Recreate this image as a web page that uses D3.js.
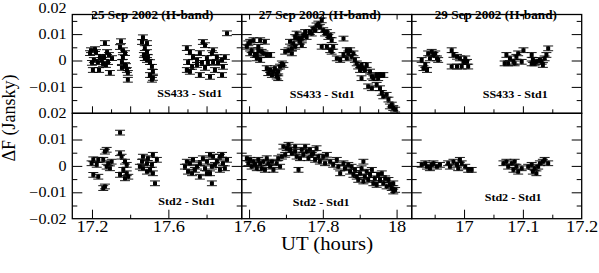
<!DOCTYPE html>
<html>
<head>
<meta charset="utf-8">
<script src="https://cdn.jsdelivr.net/npm/d3@7"></script>
<style>
  body { margin: 0; background: #fff; }
  svg { display: block; font-family: "Liberation Serif", "Times New Roman", serif; }
</style>
</head>
<body>
<svg id="chart" width="599" height="273"></svg>
<script>
// [UT hours, delta F (Jy)]
const sep25Ss433 = [
  [17.195,0.0039],[17.216,0.0043],[17.190,0.0028],[17.221,0.0032],[17.210,0.0002],[17.231,-0.0006],
  [17.200,-0.0009],[17.205,-0.0036],[17.237,-0.0036],[17.242,0.0013],
  [17.268,0.0066],[17.279,0.0032],[17.263,0.0013],[17.284,-0.0006],[17.258,-0.0013],[17.273,-0.0017],
  [17.294,-0.0047],[17.305,0.0009],[17.289,0.0021],[17.252,0.0002],
  [17.352,0.0073],[17.347,0.0051],[17.362,0.0039],[17.373,0.0028],[17.362,0.0013],[17.357,-0.0006],
  [17.373,-0.0017],[17.357,-0.0028],[17.383,-0.0036],[17.388,-0.0047],[17.388,-0.0073],[17.378,-0.0021],
  [17.467,0.0088],[17.462,0.0070],[17.488,0.0066],[17.477,0.0047],[17.488,0.0032],[17.472,0.0021],
  [17.493,0.0013],[17.488,0.0002],[17.504,-0.0006],[17.514,-0.0024],[17.519,-0.0043],[17.504,-0.0055],
  [17.519,-0.0066],[17.514,-0.0073],[17.477,0.0009],
  [17.697,0.0047],[17.713,0.0032],[17.729,0.0013],[17.703,-0.0006],[17.724,-0.0024],[17.697,-0.0036],
  [17.713,-0.0043],[17.781,0.0070],[17.792,0.0058],[17.765,0.0028],[17.802,0.0009],[17.776,-0.0009],
  [17.750,-0.0017],[17.792,-0.0028],[17.765,-0.0055],[17.834,0.0039],[17.828,0.0028],[17.854,0.0013],
  [17.834,-0.0006],[17.860,-0.0009],[17.881,0.0002],[17.886,-0.0024],[17.844,-0.0036],[17.881,-0.0055],
  [17.907,0.0103],[17.896,0.0013],[17.818,-0.0062],[17.750,0.0002],[17.807,-0.0009]
];
const sep25Std2 = [
  [17.207,0.0025],[17.233,0.0023],[17.198,0.0010],[17.225,0.0004],[17.207,-0.0034],[17.233,-0.0041],
  [17.277,0.0061],[17.268,0.0054],[17.259,0.0023],[17.285,0.0010],[17.277,-0.0003],[17.294,-0.0009],
  [17.268,-0.0078],[17.259,-0.0084],[17.347,0.0126],[17.347,0.0048],[17.355,0.0035],[17.373,0.0016],
  [17.382,0.0004],[17.364,-0.0015],[17.382,-0.0028],[17.347,-0.0034],[17.373,-0.0047],[17.390,-0.0041],
  [17.303,0.0016],
  [17.467,0.0035],[17.493,0.0029],[17.519,0.0042],[17.462,0.0016],[17.488,0.0010],[17.514,0.0004],
  [17.467,-0.0009],[17.504,-0.0015],[17.519,-0.0028],[17.488,-0.0022],[17.530,-0.0066],[17.451,-0.0003],
  [17.540,0.0023],
  [17.697,0.0016],[17.713,0.0010],[17.729,0.0023],[17.703,-0.0022],[17.724,-0.0028],[17.765,-0.0041],
  [17.765,0.0010],[17.781,0.0029],[17.802,0.0016],[17.792,-0.0009],[17.750,-0.0003],[17.818,0.0042],
  [17.834,0.0035],[17.828,-0.0003],[17.818,-0.0028],[17.854,0.0016],[17.870,0.0035],[17.881,0.0042],
  [17.886,0.0010],[17.896,-0.0009],[17.870,-0.0015],[17.907,0.0023],[17.844,0.0004],[17.828,-0.0066],
  [17.739,-0.0015],[17.687,-0.0003],[17.802,-0.0028]
];
const sep27Ss433 = [
  [17.598,0.0065],[17.594,0.0052],[17.603,0.0071],[17.612,0.0077],[17.607,0.0039],[17.603,0.0027],
  [17.616,0.0021],[17.625,0.0039],[17.634,0.0033],[17.621,0.0008],[17.630,0.0002],[17.639,0.0027],
  [17.648,0.0021],[17.643,0.0071],[17.630,0.0077],[17.625,0.0052],[17.657,0.0021],[17.621,0.0021],
  [17.648,-0.0029],[17.657,-0.0036],[17.652,-0.0048],[17.666,-0.0042],[17.662,-0.0055],[17.675,-0.0061],
  [17.670,-0.0029],[17.679,-0.0042],[17.684,-0.0023],[17.689,-0.0011],[17.679,-0.0067],[17.693,-0.0017],
  [17.675,-0.0048],
  [17.698,0.0033],[17.707,0.0039],[17.716,0.0027],[17.711,0.0071],[17.720,0.0065],[17.725,0.0089],
  [17.729,0.0102],[17.734,0.0083],[17.738,0.0071],[17.743,0.0058],[17.747,0.0096],[17.752,0.0108],
  [17.756,0.0089],[17.765,0.0108],[17.770,0.0102],[17.774,0.0121],[17.779,0.0115],[17.783,0.0133],
  [17.788,0.0140],[17.792,0.0127],[17.797,0.0152],[17.801,0.0115],[17.806,0.0102],[17.811,0.0108],
  [17.815,0.0089],[17.820,0.0096],[17.824,0.0077],[17.725,0.0052],[17.716,0.0046],[17.743,0.0083],
  [17.797,0.0052],[17.811,0.0052],[17.820,0.0039],[17.828,0.0052],[17.824,0.0033],[17.838,0.0008],
  [17.847,0.0002],[17.856,0.0083],[17.856,0.0021],[17.865,0.0039],[17.869,0.0027],[17.874,0.0039],
  [17.878,0.0014],[17.865,0.0008],[17.883,0.0027],[17.887,0.0002],[17.892,-0.0011],[17.896,-0.0023],
  [17.905,-0.0017],[17.910,-0.0029],[17.914,-0.0036],[17.901,-0.0036],[17.919,-0.0017],[17.905,-0.0067],
  [17.928,-0.0042],[17.933,-0.0061],[17.937,-0.0067],[17.946,-0.0055],[17.950,-0.0067],[17.955,-0.0055],
  [17.964,-0.0055],[17.923,-0.0098],[17.933,-0.0105],[17.946,-0.0092],[17.955,-0.0105],[17.960,-0.0123],
  [17.964,-0.0136],[17.973,-0.0130],[17.978,-0.0148],[17.982,-0.0174],[17.991,-0.0180],[17.996,-0.0186],
  [17.987,-0.0167]
];
const sep27Std2 = [
  [17.594,0.0029],[17.598,0.0010],[17.603,0.0023],[17.612,0.0016],[17.607,-0.0003],[17.616,0.0004],
  [17.625,0.0023],[17.630,0.0010],[17.634,-0.0009],[17.639,0.0016],[17.648,0.0029],[17.652,0.0010],
  [17.657,-0.0003],[17.662,0.0016],[17.666,-0.0015],[17.675,0.0010],[17.684,-0.0003],[17.689,0.0035],
  [17.679,0.0029],[17.643,-0.0015],[17.621,-0.0009],
  [17.693,0.0073],[17.702,0.0067],[17.707,0.0080],[17.711,0.0061],[17.698,0.0042],[17.716,0.0048],
  [17.725,0.0054],[17.729,0.0035],[17.734,-0.0015],[17.738,0.0029],[17.743,0.0061],[17.747,0.0042],
  [17.756,0.0054],[17.761,0.0029],[17.765,0.0061],[17.770,0.0042],[17.774,0.0048],[17.779,0.0023],
  [17.783,0.0067],[17.788,0.0035],[17.792,0.0016],[17.801,0.0035],[17.811,0.0042],[17.806,0.0010],
  [17.725,0.0073],[17.752,0.0073],
  [17.820,0.0016],[17.828,0.0004],[17.838,0.0023],[17.842,-0.0003],[17.847,-0.0028],[17.856,0.0010],
  [17.860,-0.0009],[17.869,0.0004],[17.874,-0.0022],[17.878,-0.0003],[17.883,-0.0034],[17.887,-0.0015],
  [17.892,-0.0041],[17.896,-0.0053],[17.901,-0.0028],[17.905,-0.0009],[17.910,0.0016],[17.914,-0.0041],
  [17.919,-0.0022],[17.923,-0.0053],[17.928,-0.0034],[17.933,-0.0015],[17.937,-0.0066],[17.941,-0.0047],
  [17.946,-0.0072],[17.950,-0.0034],[17.955,-0.0053],[17.960,-0.0028],[17.964,-0.0066],[17.969,-0.0047],
  [17.973,-0.0078],[17.978,-0.0053],[17.982,-0.0072],[17.987,-0.0084],[17.991,-0.0066],[17.996,-0.0091],
  [17.991,-0.0097],[17.910,-0.0059]
];
const sep29Ss433 = [
  [16.928,0.0002],[16.934,-0.0017],[16.931,-0.0029],[16.937,-0.0036],[16.939,0.0027],[16.945,0.0033],
  [16.948,0.0021],[16.942,0.0008],[16.951,0.0027],[16.954,0.0008],[16.956,0.0002],
  [16.979,0.0039],[16.982,0.0021],[16.988,0.0014],[16.993,0.0008],[16.999,-0.0005],[17.002,0.0008],
  [17.005,-0.0005],[16.979,-0.0023],[16.988,-0.0023],[16.996,-0.0023],[17.007,-0.0023],
  [17.072,0.0021],[17.078,0.0008],[17.075,-0.0011],[17.084,-0.0005],[17.089,0.0014],[17.092,0.0027],
  [17.098,-0.0005],[17.101,0.0039],[17.086,-0.0011],[17.115,0.0021],[17.117,0.0002],[17.120,-0.0011],
  [17.123,-0.0005],[17.129,0.0002],[17.134,-0.0017],[17.137,0.0008],[17.140,0.0021],[17.143,0.0046],
  [17.132,-0.0005],[17.115,-0.0011],[17.069,-0.0011]
];
const sep29Std2 = [
  [16.928,0.0004],[16.934,0.0010],[16.937,-0.0003],[16.942,-0.0009],[16.945,0.0004],[16.948,0.0010],
  [16.954,-0.0003],[16.959,0.0004],[16.973,0.0010],[16.976,-0.0003],[16.982,0.0016],[16.988,0.0004],
  [16.990,-0.0009],[16.993,0.0023],[16.996,0.0010],[17.002,-0.0003],[17.007,-0.0015],[17.013,-0.0015],
  [17.067,0.0010],[17.072,0.0016],[17.075,-0.0003],[17.081,0.0010],[17.084,-0.0015],[17.086,0.0016],
  [17.089,-0.0003],[17.092,-0.0022],[17.098,-0.0009],[17.109,-0.0003],[17.115,0.0004],[17.117,-0.0022],
  [17.120,-0.0009],[17.123,-0.0028],[17.129,0.0010],[17.134,0.0016],[17.137,0.0023],[17.143,0.0010],
  [17.126,-0.0003]
];
const ERR = 0.0009;

const dateLabels = ['25 Sep 2002 (H-band)', '27 Sep 2002 (H-band)', '29 Sep 2002 (H-band)'];
const rowLabels  = ['SS433 - Std1', 'Std2 - Std1'];
const xDomains   = [[17.097, 17.984], [17.58, 18.041], [16.911, 17.2]];
const xLabelTicks = [[17.2, 17.6], [17.6, 17.8, 18], [17, 17.1, 17.2]];
const xMinorTicks = [[17.4, 17.8], [17.7, 17.9], [16.95, 17.05, 17.15]];
const xFineMajor  = [[17.2, 17.4, 17.6, 17.8], [17.6, 17.7, 17.8, 17.9, 18], [17, 17.1]];
const xFineMinor  = [[17.3, 17.5, 17.7, 17.9], [17.65, 17.75, 17.85, 17.95], [16.95, 17.05, 17.15]];
const yMajor = [0.02, 0.01, 0, -0.01, -0.02];
const yMinor = [0.015, 0.005, -0.005, -0.015];
const yLabelsTop = [0.02, 0.01, 0, -0.01];
const yLabelsBot = [0.02, 0.01, 0, -0.01, -0.02];

const series = [[sep25Ss433, sep27Ss433, sep29Ss433], [sep25Std2, sep27Std2, sep29Std2]];

const SX = 1.15;   // picture is a bit wider than tall, text looks stretched
const colEdges = [72.3, 241.7, 411.7, 581.7];
const rowFrames = [[14.5, 113.3], [113.3, 218.7]];
const yRanges = [[113.3, 7.7], [218.7, 113.1]];
const labelPos = [
  { date: [19, 18.5], top: [85, 97], bot: [86, 204.5] },
  { date: [17, 18.5], top: [48, 98], bot: [51, 206] },
  { date: [23, 18.5], top: [71, 98], bot: [73, 201] }
];

const svg = d3.select('#chart');
const fmtY = d => d === 0 ? '0' : d3.format('.2f')(d).replace(/0$/, '');
const fmtX = d => d3.format('.1f')(d).replace(/\.0$/, '');

function tickGroup(g, axis, values, size, transform) {
  g.append('g')
    .attr('transform', transform)
    .call(axis.tickValues(values).tickSize(size).tickFormat(''))
    .call(a => a.select('.domain').remove())
    .selectAll('line').attr('stroke', '#000').attr('stroke-width', 1);
}

rowFrames.forEach((fr, r) => {
  const y = d3.scaleLinear().domain([-0.02, 0.02]).range(yRanges[r]);
  const inside = v => y(v) > fr[0] + 1 && y(v) < fr[1] - 1;

  xDomains.forEach((dom, c) => {
    const x0 = colEdges[c], x1 = colEdges[c + 1];
    const x = d3.scaleLinear().domain(dom).range([x0, x1]);
    const g = svg.append('g');
    const clipId = `clip-${r}-${c}`;
    svg.append('clipPath').attr('id', clipId)
      .append('rect').attr('x', x0).attr('y', fr[0]).attr('width', x1 - x0).attr('height', fr[1] - fr[0]);

    // points with error bars
    const pts = g.append('g').attr('clip-path', `url(#${clipId})`)
      .selectAll('g').data(series[r][c]).join('g')
      .attr('transform', d => `translate(${x(d[0])},0)`);
    pts.append('path')
      .attr('d', d => {
        const ya = y(d[1] + ERR), yb = y(d[1] - ERR);
        return `M-5,${ya}H5M0,${ya}V${yb}M-5,${yb}H5`;
      })
      .attr('stroke', '#000').attr('stroke-width', 0.9).attr('fill', 'none');
    pts.append('rect')
      .attr('x', -2).attr('y', d => y(d[1]) - 2)
      .attr('width', 4).attr('height', 4).attr('fill', '#000');

    // y ticks on both sides, pointing in
    tickGroup(g, d3.axisRight(y), yMajor.filter(inside), 10, `translate(${x0},0)`);
    tickGroup(g, d3.axisRight(y), yMinor.filter(inside), 5, `translate(${x0},0)`);
    tickGroup(g, d3.axisLeft(y), yMajor.filter(inside), 10, `translate(${x1},0)`);
    tickGroup(g, d3.axisLeft(y), yMinor.filter(inside), 5, `translate(${x1},0)`);

    // x ticks
    if (r === 0) {
      tickGroup(g, d3.axisTop(x), xFineMajor[c], 7, `translate(0,${fr[1]})`);
      tickGroup(g, d3.axisTop(x), xFineMinor[c], 4, `translate(0,${fr[1]})`);
      tickGroup(g, d3.axisBottom(x), xLabelTicks[c].filter(v => x(v) < x1 - 1), 5, `translate(0,${fr[0]})`);
    } else {
      tickGroup(g, d3.axisTop(x), xLabelTicks[c].filter(v => x(v) < x1 - 1), 9, `translate(0,${fr[1]})`);
      tickGroup(g, d3.axisTop(x), xMinorTicks[c], 4, `translate(0,${fr[1]})`);
      g.append('g')
        .attr('transform', `translate(0,${fr[1]})`)
        .call(d3.axisBottom(x).tickValues(xLabelTicks[c]).tickSize(0).tickPadding(2).tickFormat(fmtX))
        .call(a => a.select('.domain').remove())
        .selectAll('text')
        .attr('font-size', 16).attr('font-family', '"Liberation Serif","Times New Roman",serif')
        .attr('fill', '#000')
        .attr('transform', `scale(${SX},1)`);
    }

    // frame
    g.append('rect')
      .attr('x', x0).attr('y', fr[0]).attr('width', x1 - x0).attr('height', fr[1] - fr[0])
      .attr('fill', 'none').attr('stroke', '#000').attr('stroke-width', 1.3);

    // panel texts
    const lp = labelPos[c];
    if (r === 0) {
      g.append('text')
        .attr('transform', `translate(${x0 + lp.date[0]},${lp.date[1]}) scale(${SX},1)`)
        .attr('font-size', 11.5).attr('font-weight', 'bold')
        .text(dateLabels[c]);
    }
    const rp = r === 0 ? lp.top : lp.bot;
    g.append('text')
      .attr('transform', `translate(${x0 + rp[0]},${rp[1]}) scale(${SX},1)`)
      .attr('font-size', 10.5).attr('font-weight', 'bold')
      .text(rowLabels[r]);
  });

  // y labels on the left
  svg.append('g')
    .attr('transform', `translate(${colEdges[0]},0)`)
    .call(d3.axisLeft(y).tickValues(r === 0 ? yLabelsTop : yLabelsBot)
      .tickSize(0).tickPadding(5).tickFormat(fmtY))
    .call(a => a.select('.domain').remove())
    .selectAll('text')
    .attr('font-size', 14).attr('font-family', '"Liberation Serif","Times New Roman",serif')
    .attr('fill', '#000')
    .attr('transform', `scale(${SX},1)`);
});

// axis titles
svg.append('text')
  .attr('transform', `translate(327,250) scale(${SX},1)`)
  .attr('text-anchor', 'middle')
  .attr('font-size', 18)
  .text('UT (hours)');
svg.append('text')
  .attr('transform', 'translate(15,118) rotate(-90)')
  .attr('text-anchor', 'middle')
  .attr('font-size', 18)
  .text('ΔF (Jansky)');
</script>
</body>
</html>
